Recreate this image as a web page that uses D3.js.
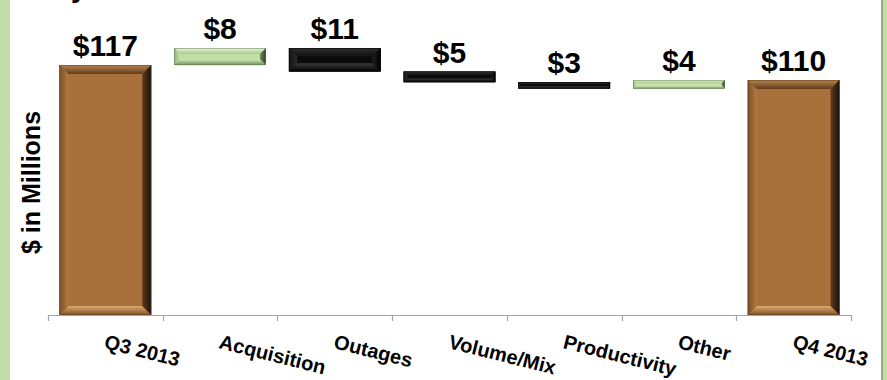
<!DOCTYPE html>
<html>
<head>
<meta charset="utf-8">
<script src="https://cdn.jsdelivr.net/npm/d3@7"></script>
<style>
  html, body { margin: 0; padding: 0; background: #ffffff; }
  svg { display: block; font-family: "Liberation Sans", Arial, sans-serif; }
</style>
</head>
<body>
<svg id="chart" width="887" height="380"></svg>
<script>
// ---- data ----
const categories = ["Q3 2013", "Acquisition", "Outages", "Volume/Mix", "Productivity", "Other", "Q4 2013"];
const values = [117, 8, -11, -5, -3, 4, 110];
const isTotal = [true, false, false, false, false, false, true];
const labels = ["$117", "$8", "$11", "$5", "$3", "$4", "$110"];
const yAxisTitle = "$ in Millions";
const yDomain = [0, 140];

// ---- layout ----
const W = 887, H = 380;
const plot = { left: 48, right: 851, top: 16, bottom: 315 };

const svg = d3.select("#chart");

// side borders
svg.append("rect").attr("x", 0).attr("y", 0).attr("width", 10).attr("height", H).attr("fill", "#C3DCA9");
svg.append("rect").attr("x", 883).attr("y", 0).attr("width", 4).attr("height", H).attr("fill", "#C3DCA9");
svg.append("rect").attr("x", 881).attr("y", 0).attr("width", 2).attr("height", H).attr("fill", "#8EAC7A");

// clipped title remnant (the reference shows only the descender of a title letter)
svg.append("text").attr("x", 71).attr("y", -3).attr("font-size", 28).attr("font-weight", "bold")
  .attr("fill", "#000").text("y");

const x = d3.scaleBand().domain(categories).range([plot.left, plot.right])
  .paddingInner(0.2).paddingOuter(0.1);
const y = d3.scaleLinear().domain(yDomain).range([plot.bottom, plot.top]);

// waterfall computation
let running = 0;
const bars = categories.map((c, i) => {
  let lo, hi;
  if (isTotal[i]) { lo = 0; hi = values[i]; running = values[i]; }
  else {
    const next = running + values[i];
    lo = Math.min(running, next); hi = Math.max(running, next);
    running = next;
  }
  const kind = isTotal[i] ? "total" : (values[i] >= 0 ? "up" : "down");
  return { cat: c, lo, hi, kind, label: labels[i] };
});

// gradients for bevel facets
const palette = {
  total: { face: "#A8703A", top: ["#B8844C", "#5E3B1A"], bottom: ["#7E5226", "#DCAA70"],
           left: ["#7A4E26", "#B27A42"], right: ["#5E3C1C", "#1E1208"], stroke: "#5A3A1A" },
  up:    { face: "#C3DEA3", top: ["#EAF5DC", "#A8C68A"], bottom: ["#6E8A58", "#D6EBBE"],
           left: ["#8FAE72", "#C8E2AA"], right: ["#6E8C58", "#2F4024"], stroke: "#5E7A4C" },
  down:  { face: "#0A0A0A", top: ["#2E2E2E", "#111111"], bottom: ["#000000", "#3A3A3A"],
           left: ["#141414", "#2A2A2A"], right: ["#1E1E1E", "#000000"], stroke: "#000000" }
};
const defs = svg.append("defs");
Object.entries(palette).forEach(([k, p]) => {
  [["top", 0, 0, 0, 1], ["bottom", 0, 1, 0, 0], ["left", 0, 0, 1, 0], ["right", 0, 0, 1, 0]].forEach(([f, x1, y1, x2, y2]) => {
    const g = defs.append("linearGradient").attr("id", `g-${k}-${f}`)
      .attr("x1", x1).attr("y1", y1).attr("x2", x2).attr("y2", y2);
    g.append("stop").attr("offset", 0).attr("stop-color", p[f][0]);
    g.append("stop").attr("offset", 1).attr("stop-color", p[f][1]);
  });
});

// bars with bevel
const gBars = svg.append("g");
bars.forEach(d => {
  const x0 = x(d.cat), w = x.bandwidth();
  const y0 = y(d.hi), y1 = y(d.lo), h = y1 - y0;
  const b = Math.min(9, h * 0.35);
  const p = palette[d.kind];
  const g = gBars.append("g");
  const X0 = x0, X1 = x0 + w, Y0 = y0, Y1 = y1;
  g.append("rect").attr("x", X0).attr("y", Y0).attr("width", w).attr("height", h).attr("fill", p.face);
  const poly = (pts, fill) => g.append("polygon").attr("points", pts.map(q => q.join(",")).join(" ")).attr("fill", fill);
  poly([[X0, Y0], [X1, Y0], [X1 - b, Y0 + b], [X0 + b, Y0 + b]], `url(#g-${d.kind}-top)`);
  poly([[X0, Y1], [X0 + b, Y1 - b], [X1 - b, Y1 - b], [X1, Y1]], `url(#g-${d.kind}-bottom)`);
  poly([[X0, Y0], [X0 + b, Y0 + b], [X0 + b, Y1 - b], [X0, Y1]], `url(#g-${d.kind}-left)`);
  poly([[X1, Y0], [X1, Y1], [X1 - b, Y1 - b], [X1 - b, Y0 + b]], `url(#g-${d.kind}-right)`);
  g.append("rect").attr("x", X0 + 0.25).attr("y", Y0 + 0.25).attr("width", w - 0.5).attr("height", h - 0.5)
    .attr("fill", "none").attr("stroke", p.stroke).attr("stroke-width", 0.5);
});

// value labels
svg.append("g").selectAll("text").data(bars).join("text")
  .attr("x", d => x(d.cat) + x.bandwidth() / 2)
  .attr("y", d => y(d.hi) - 9)
  .attr("text-anchor", "middle")
  .attr("font-size", 30).attr("font-weight", "bold").attr("fill", "#000")
  .text(d => d.label);

// x axis line + ticks
const axisG = svg.append("g");
axisG.append("line").attr("x1", plot.left).attr("x2", plot.right)
  .attr("y1", plot.bottom + 0.5).attr("y2", plot.bottom + 0.5)
  .attr("stroke", "#A6A6A6").attr("stroke-width", 1.2);
d3.range(categories.length + 1).forEach(i => {
  const tx = Math.round(plot.left + i * x.step()) + 0.5;
  axisG.append("line").attr("x1", tx).attr("x2", tx)
    .attr("y1", plot.bottom).attr("y2", plot.bottom + 6)
    .attr("stroke", "#A6A6A6").attr("stroke-width", 1.2);
});

// rotated category labels
axisG.selectAll("text.cat").data(categories).join("text")
  .attr("class", "cat")
  .attr("transform", c => `translate(${x(c) + x.bandwidth() / 2 - 2},${plot.bottom + 33}) rotate(14)`)
  .attr("text-anchor", "start")
  .attr("font-size", 20).attr("font-weight", "bold").attr("fill", "#000")
  .text(c => c);

// y axis title
svg.append("text")
  .attr("transform", `translate(40,${(plot.top + plot.bottom) / 2 + 17}) rotate(-90)`)
  .attr("text-anchor", "middle")
  .attr("font-size", 25).attr("font-weight", "bold").attr("fill", "#000")
  .text(yAxisTitle);
</script>
</body>
</html>
